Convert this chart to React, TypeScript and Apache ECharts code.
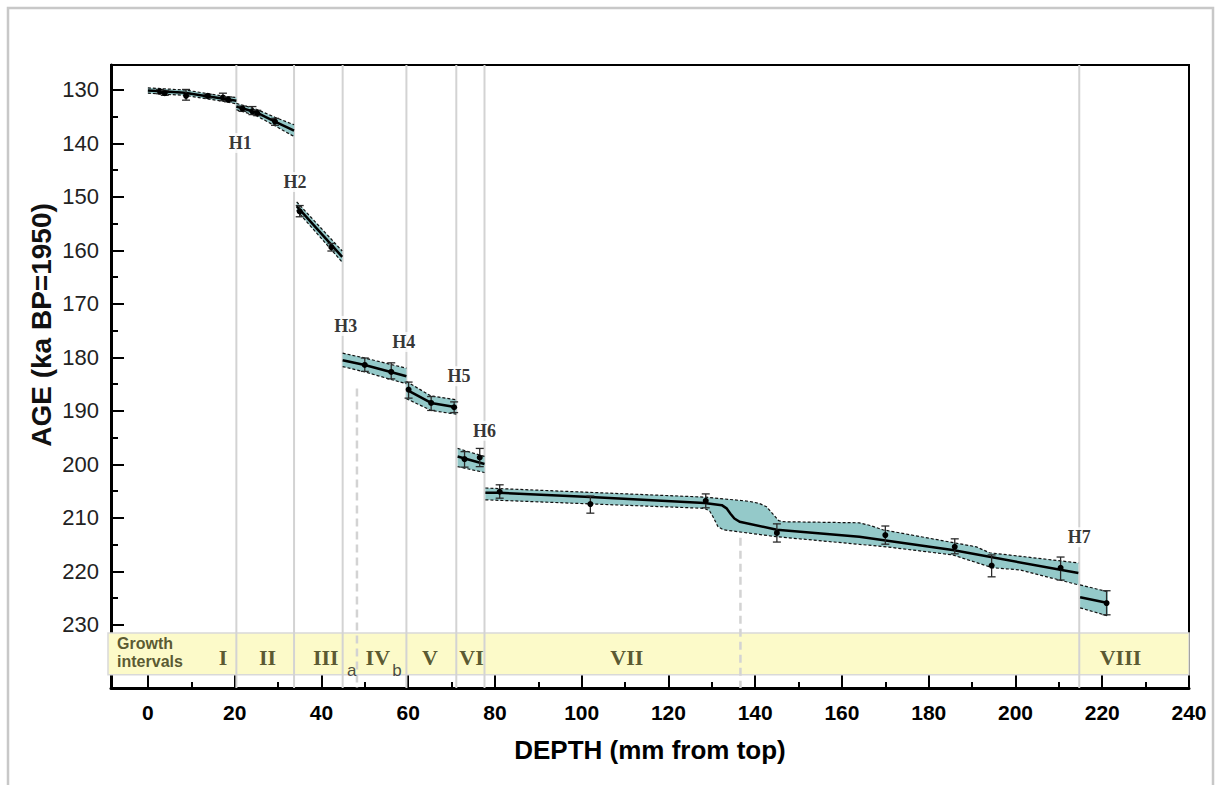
import React, { useEffect, useRef } from "react";
import * as echarts from "echarts";

// ---------- axis ranges & ticks ----------
const X_MIN = -8.5;
const X_MAX = 240;
const Y_MIN = 125.33;
const Y_MAX = 241.78;
const xMajorTicks = [0, 20, 40, 60, 80, 100, 120, 140, 160, 180, 200, 220, 240];
const xMinorTicks = [10, 30, 50, 70, 90, 110, 130, 150, 170, 190, 210, 230];
const yMajorTicks = [130, 140, 150, 160, 170, 180, 190, 200, 210, 220, 230];
const yMinorTicks = [135, 145, 155, 165, 175, 185, 195, 205, 215, 225];

// ---------- age model segments: [depth, age] ----------
const seg1aMid = [[0, 130.1], [4, 130.3], [8.5, 130.5], [14, 131.2], [18, 131.7], [20.4, 132.0]];
const seg1aUpper = [[0, 129.6], [4, 129.8], [8.5, 130.0], [14, 130.7], [18, 131.2], [20.4, 131.4]];
const seg1aLower = [[0, 130.6], [4, 130.8], [8.5, 131.0], [14, 131.7], [18, 132.2], [20.4, 132.6]];

const seg1bMid = [[20.4, 133.1], [25, 134.2], [29.3, 135.9], [33.7, 137.6]];
const seg1bUpper = [[20.4, 132.5], [25, 133.6], [29.3, 135.1], [33.7, 136.5]];
const seg1bLower = [[20.4, 133.7], [25, 134.8], [29.3, 136.7], [33.7, 138.7]];

const seg2Mid = [[34.3, 151.7], [44.8, 161.2]];
const seg2Upper = [[34.3, 150.9], [44.8, 160.1]];
const seg2Lower = [[34.3, 152.5], [44.8, 162.2]];

const seg3Mid = [[44.9, 180.5], [50, 181.4], [56, 182.7], [59.6, 183.5]];
const seg3Upper = [[44.9, 179.2], [50, 180.1], [56, 181.3], [59.6, 182.0]];
const seg3Lower = [[44.9, 181.7], [50, 182.7], [56, 184.1], [59.6, 184.9]];

const seg4Mid = [[59.6, 186.0], [65.3, 188.5], [71.1, 189.3]];
const seg4Upper = [[59.6, 184.5], [65.3, 187.2], [71.1, 187.9]];
const seg4Lower = [[59.6, 187.7], [65.3, 189.9], [71.1, 190.6]];

const seg5Mid = [[71.4, 198.5], [77.6, 199.9]];
const seg5Upper = [[71.4, 197.0], [77.6, 198.5]];
const seg5Lower = [[71.4, 200.4], [77.6, 201.5]];

const seg6Mid = [
  [77.8, 205.3], [81, 205.3], [102, 206.1], [128.3, 207.2], [132.3, 207.6], [133.4, 208.2],
  [134.3, 209.2], [135.2, 210.1], [136.4, 210.7], [145, 212.2], [164, 213.5], [185.5, 216.0], [214.5, 220.3],
];
const seg6Upper = [
  [77.8, 204.4], [128.3, 206.1], [135, 206.6], [138.7, 206.9], [141, 207.3], [142.6, 207.9], [144, 209.2],
  [145.4, 210.5], [146.5, 210.7], [164, 210.9], [166.5, 211.4], [169.4, 212.2], [191, 215.4], [194, 216.5], [214.5, 218.4],
];
const seg6Lower = [
  [77.8, 206.6], [128.3, 208.2], [129.5, 208.7], [130.3, 209.8], [131.4, 211.6], [132.6, 212.2], [144.9, 213.5],
  [170.3, 215.4], [185.5, 216.9], [194.7, 219.3], [201, 219.7], [214.5, 222.5],
];

const seg7Mid = [[214.9, 224.8], [221.3, 225.9]];
const seg7Upper = [[214.9, 222.5], [221.3, 223.8]];
const seg7Lower = [[214.9, 226.8], [221.3, 228.3]];

// ---------- dated samples: [depth, age, ageLow, ageHigh] ----------
const datingPoints = [
  [2.8, 130.3, 129.9, 130.7], [3.9, 130.6, 130.1, 131.0], [8.8, 131.1, 129.9, 131.9],
  [13.8, 131.1, 130.8, 131.5], [17.3, 131.4, 130.6, 132.0], [18.5, 131.8, 131.3, 132.2],
  [21.8, 133.5, 133.0, 134.0], [24.1, 134.0, 133.1, 134.6], [25.2, 134.3, 133.8, 134.8], [29.3, 135.9, 135.3, 136.6],
  [35.0, 152.7, 151.6, 153.7], [42.3, 159.4, 158.7, 160.1],
  [50.0, 181.4, 180.1, 182.6], [56.1, 182.7, 181.0, 184.0],
  [60.1, 186.0, 184.6, 187.6], [65.3, 188.5, 187.3, 189.9], [70.6, 189.3, 188.3, 190.3],
  [73.0, 199.0, 197.6, 200.5], [76.5, 198.7, 197.0, 200.4],
  [81.1, 205.1, 203.8, 206.3], [102.0, 207.4, 205.9, 209.1], [128.6, 206.8, 205.5, 208.1],
  [145.0, 212.8, 211.1, 214.5], [170.0, 213.2, 211.5, 214.9], [186.0, 215.4, 213.9, 216.7],
  [194.5, 218.9, 216.9, 221.0], [210.4, 219.3, 217.3, 221.6],
  [221.0, 225.9, 223.6, 228.1],
];

// ---------- hiatuses ----------
const hiatusNames = ["H1", "H2", "H3", "H4", "H5", "H6", "H7"];
const hiatusDepths = [20.4, 33.7, 44.9, 59.6, 71.1, 77.6, 214.7];
const hiatusLabelDepths = [21.3, 33.9, 45.6, 59.0, 71.7, 77.6, 214.7];
const hiatusLabelAges = [139.9, 147.2, 174.1, 177.1, 183.5, 193.7, 213.6];
const dashedDepths = [48.2, 136.6];
const dashedStartAges = [185.8, 213.7];

// ---------- growth intervals ----------
const bandTopAge = 231.5;
const bandBottomAge = 239.3;
const intervalNames = ["I", "II", "III", "IV", "V", "VI", "VII", "VIII"];
const intervalDepths = [17.3, 27.6, 41.0, 53.0, 65.0, 74.6, 110.4, 224.2];
const intervalAge = 236.0;
const subNames = ["a", "b"];
const subDepths = [47.0, 57.4];
const subAge = 238.5;

const segments = [
  { mid: seg1aMid, upper: seg1aUpper, lower: seg1aLower },
  { mid: seg1bMid, upper: seg1bUpper, lower: seg1bLower },
  { mid: seg2Mid, upper: seg2Upper, lower: seg2Lower },
  { mid: seg3Mid, upper: seg3Upper, lower: seg3Lower },
  { mid: seg4Mid, upper: seg4Upper, lower: seg4Lower },
  { mid: seg5Mid, upper: seg5Upper, lower: seg5Lower },
  { mid: seg6Mid, upper: seg6Upper, lower: seg6Lower },
  { mid: seg7Mid, upper: seg7Upper, lower: seg7Lower },
];

const BAND_FILL = "#94c9c9";
const OLIVE = "#2e2e08";
const SANS = "'Liberation Sans', Arial, sans-serif";
const SERIF = "'Liberation Serif', 'Times New Roman', serif";

function buildOption(): any {
  const lineSeries: any[] = [];
  segments.forEach((s) => {
    lineSeries.push({
      type: "line", data: s.upper, symbol: "none", silent: true, z: 4,
      lineStyle: { color: "#111", width: 1.2, type: [3, 2] },
    });
    lineSeries.push({
      type: "line", data: s.lower, symbol: "none", silent: true, z: 4,
      lineStyle: { color: "#111", width: 1.2, type: [3, 2] },
    });
    lineSeries.push({
      type: "line", data: s.mid, symbol: "none", silent: true, z: 5,
      lineStyle: { color: "#000", width: 2.5 },
    });
  });

  const vLineData: any[] = hiatusDepths.map((d) => [d, Y_MIN, Y_MAX, 0]);
  dashedDepths.forEach((d, i) => vLineData.push([d, dashedStartAges[i], Y_MAX, 1]));

  return {
    animation: false,
    backgroundColor: "#ffffff",
    grid: {
      left: 111, right: 27, top: 65, bottom: 97,
      show: true, borderColor: "#000", borderWidth: 2, backgroundColor: "transparent",
    },
    graphic: [
      {
        type: "rect", x: 8, y: 8, z: -10, silent: true,
        shape: { width: 1205, height: 800 },
        style: { fill: "none", stroke: "#c8c8c8", lineWidth: 2.5 },
      },
      {
        type: "text", x: 41, y: 325, rotation: Math.PI / 2, silent: true,
        style: {
          text: "AGE (ka BP=1950)", fill: "#111",
          font: "bold 28px 'Liberation Sans', Arial, sans-serif",
          align: "center", verticalAlign: "middle",
        },
      },
    ],
    xAxis: [
      {
        type: "value", min: X_MIN, max: X_MAX, position: "bottom",
        axisLine: { show: true, onZero: false, lineStyle: { color: "#000", width: 3 } },
        axisTick: { show: true, inside: true, length: 13, customValues: xMajorTicks, lineStyle: { color: "#000", width: 2 } },
        axisLabel: {
          customValues: xMajorTicks, margin: 14, color: "#000",
          fontFamily: SANS, fontWeight: "bold", fontSize: 21,
        },
        splitLine: { show: false },
        name: "DEPTH (mm from top)", nameLocation: "middle", nameGap: 49,
        nameTextStyle: { fontFamily: SANS, fontWeight: "bold", fontSize: 26, color: "#000" },
      },
      {
        type: "value", min: X_MIN, max: X_MAX, position: "bottom",
        axisLine: { show: false, onZero: false },
        axisTick: { show: true, inside: true, length: 6, customValues: xMinorTicks, lineStyle: { color: "#000", width: 2 } },
        axisLabel: { show: false },
        splitLine: { show: false },
      },
    ],
    yAxis: [
      {
        type: "value", inverse: true, min: Y_MIN, max: Y_MAX, position: "left",
        axisLine: { show: true, onZero: false, lineStyle: { color: "#000", width: 3 } },
        axisTick: { show: true, inside: true, length: 13, customValues: yMajorTicks, lineStyle: { color: "#000", width: 2 } },
        axisLabel: { customValues: yMajorTicks, margin: 12, color: "#222", fontFamily: SANS, fontSize: 22 },
        splitLine: { show: false },
      },
      {
        type: "value", inverse: true, min: Y_MIN, max: Y_MAX, position: "left",
        axisLine: { show: false, onZero: false },
        axisTick: { show: true, inside: true, length: 7, customValues: yMinorTicks, lineStyle: { color: "#000", width: 2 } },
        axisLabel: { show: false },
        splitLine: { show: false },
      },
    ],
    series: [
      // growth interval band
      {
        type: "custom", z: 1, silent: true,
        data: [[X_MIN, bandTopAge, X_MAX, bandBottomAge]],
        encode: { x: 0, y: 1 },
        renderItem: (params: any, api: any) => {
          const p1 = api.coord([api.value(0), api.value(1)]);
          const p2 = api.coord([api.value(2), api.value(3)]);
          return {
            type: "rect",
            shape: { x: p1[0] - 3, y: p1[1], width: p2[0] - p1[0] + 3, height: p2[1] - p1[1] },
            style: { fill: "#fcfac9", stroke: "#d9d9d9", lineWidth: 1.5 },
          };
        },
      },
      // hiatus vertical lines
      {
        type: "custom", z: 2, silent: true,
        data: vLineData,
        encode: { x: 0, y: 1 },
        renderItem: (params: any, api: any) => {
          const d = api.value(0);
          const p1 = api.coord([d, api.value(1)]);
          const p2 = api.coord([d, api.value(2)]);
          const dashed = api.value(3) === 1;
          return {
            type: "line",
            shape: { x1: p1[0], y1: p1[1], x2: p2[0], y2: p2[1] },
            style: { stroke: "#d3d3d3", lineWidth: dashed ? 2.5 : 2, lineDash: dashed ? [8, 5] : null },
          };
        },
      },
      // confidence band polygons
      {
        type: "custom", z: 3, silent: true,
        data: segments.map((s, i) => [s.mid[0][0], s.mid[0][1], i]),
        encode: { x: 0, y: 1 },
        renderItem: (params: any, api: any) => {
          const s = segments[params.dataIndex];
          const pts = [...s.upper, ...s.lower.slice().reverse()].map((p) => api.coord(p));
          return { type: "polygon", shape: { points: pts }, style: { fill: BAND_FILL } };
        },
      },
      ...lineSeries,
      // dated samples with error bars
      {
        type: "custom", z: 6, silent: true,
        data: datingPoints,
        encode: { x: 0, y: 1 },
        renderItem: (params: any, api: any) => {
          const x = api.value(0);
          const p = api.coord([x, api.value(1)]);
          const pl = api.coord([x, api.value(2)]);
          const ph = api.coord([x, api.value(3)]);
          const cw = 4;
          const st = { stroke: "#2a2a2a", lineWidth: 1.3 };
          return {
            type: "group",
            children: [
              { type: "line", shape: { x1: p[0], y1: pl[1], x2: p[0], y2: ph[1] }, style: st },
              { type: "line", shape: { x1: p[0] - cw, y1: pl[1], x2: p[0] + cw, y2: pl[1] }, style: st },
              { type: "line", shape: { x1: p[0] - cw, y1: ph[1], x2: p[0] + cw, y2: ph[1] }, style: st },
              { type: "circle", shape: { cx: p[0], cy: p[1], r: 3 }, style: { fill: "#000" } },
            ],
          };
        },
      },
      // hiatus labels
      {
        type: "scatter", z: 8, silent: true, symbolSize: 1,
        itemStyle: { color: "transparent" },
        data: hiatusNames.map((n, i) => ({ name: n, value: [hiatusLabelDepths[i], hiatusLabelAges[i]] })),
        label: {
          show: true, position: "inside", formatter: "{b}",
          fontFamily: SERIF, fontWeight: "bold", fontSize: 18, color: "#000",
          backgroundColor: "#fff", padding: [1, 2],
        },
      },
      // growth interval names
      {
        type: "scatter", z: 8, silent: true, symbolSize: 1,
        itemStyle: { color: "transparent" },
        data: intervalNames.map((n, i) => ({ name: n, value: [intervalDepths[i], intervalAge] })),
        label: {
          show: true, position: "inside", formatter: "{b}",
          fontFamily: SERIF, fontWeight: "bold", fontSize: 22, color: OLIVE,
        },
      },
      {
        type: "scatter", z: 8, silent: true, symbolSize: 1,
        itemStyle: { color: "transparent" },
        data: subNames.map((n, i) => ({ name: n, value: [subDepths[i], subAge] })),
        label: {
          show: true, position: "inside", formatter: "{b}",
          fontFamily: SANS, fontSize: 17, color: "#1a1a1a",
        },
      },
      {
        type: "scatter", z: 8, silent: true, symbolSize: 1,
        itemStyle: { color: "transparent" },
        data: [{ name: "Growth\nintervals", value: [-7.1, 235.1] }],
        label: {
          show: true, position: "inside", align: "left", formatter: "{b}",
          fontFamily: SANS, fontWeight: "bold", fontSize: 16, lineHeight: 18, color: OLIVE,
        },
      },
    ],
  };
}

export default function App() {
  const ref = useRef<HTMLDivElement>(null);
  useEffect(() => {
    if (!ref.current) return;
    const chart = echarts.init(ref.current, null, { renderer: "svg" });
    chart.setOption(buildOption());
    return () => chart.dispose();
  }, []);
  return (
    <div
      ref={ref}
      style={{ position: "absolute", left: 0, top: 0, width: 1216, height: 785, background: "#fff" }}
    />
  );
}
